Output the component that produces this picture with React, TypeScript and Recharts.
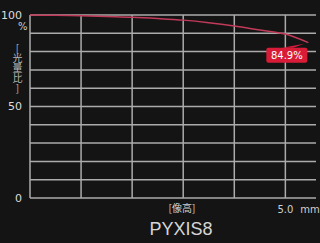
import React from 'react';
import { LineChart, Line, XAxis, YAxis, ReferenceLine } from 'recharts';

// image height (mm) vs relative illumination (%)
const imageHeight = [0, 0.5, 1, 1.5, 2, 2.5, 3, 3.5, 4, 4.5, 5, 5.45];
const illumination = [100, 99.8, 99.6, 99.2, 98.8, 98.1, 97.2, 95.8, 94, 91.8, 89.6, 84.9];

const gridY = [0, 10, 20, 30, 40, 50, 60, 70, 80, 90, 100];
const gridX = [0, 1, 2, 3, 4, 5];
const yTicks = [0, 50, 100];
const xTicks = [5];
const xTickLabels = ['5.0'];

const xUnit = 'mm';
const xTitle = '[像高]';
const yTitle = '[光量比]';
const yUnit = '%';
const lensName = 'PYXIS8';

const data = imageHeight.map((x, i) => ({ x, v: illumination[i] }));

const GRID = '#ababab';
const LINE = '#c23a5a';
const FONT = '"DejaVu Sans", sans-serif';

const EndLabel = (props: any) => {
  const { x, y, index, value } = props;
  if (index !== data.length - 1) return null;
  const bx = x - 42;
  const by = y + 5;
  return (
    <g>
      <path d={`M${x - 26},${by} L${x - 15},${by} L${x - 4},${y + 1} Z`} fill="#d81c38" />
      <rect x={bx} y={by} width={41} height={15} rx={2} fill="#d81c38" />
      <text x={bx + 20.5} y={by + 11} textAnchor="middle" fill="#fff" fontSize={10} fontFamily={FONT}>
        {value}%
      </text>
    </g>
  );
};

const XTick = (props: any) => {
  const { x, y, index } = props;
  return (
    <g>
      <text x={x} y={y + 7} textAnchor="middle" fill="#cfcfcf" fontSize={10} fontFamily={FONT}>
        {xTickLabels[index]}
      </text>
      <text x={x + 15} y={y + 7} textAnchor="start" fill="#cfcfcf" fontSize={10} fontFamily={FONT}>
        {xUnit}
      </text>
    </g>
  );
};

export default function App() {
  return (
    <div
      style={{
        position: 'fixed',
        left: 0,
        top: 0,
        width: 320,
        height: 243,
        background: '#141414',
        overflow: 'hidden',
      }}
    >
      <LineChart width={320} height={243} data={data} margin={{ top: 15, right: 4, bottom: 0, left: 0 }}>
        <XAxis
          dataKey="x"
          type="number"
          domain={[0, 5.6]}
          ticks={xTicks}
          tick={<XTick />}
          axisLine={false}
          tickLine={false}
          height={45}
        />
        <YAxis
          type="number"
          domain={[0, 100]}
          ticks={yTicks}
          width={30}
          axisLine={false}
          tickLine={false}
          tickMargin={2}
          tick={{ fill: '#dcdcdc', fontSize: 11, fontFamily: FONT }}
        />
        {gridY.map((g) => (
          <ReferenceLine key={'h' + g} y={g} stroke={GRID} strokeWidth={1.5} ifOverflow="extendDomain" />
        ))}
        {gridX.map((g) => (
          <ReferenceLine key={'v' + g} x={g} stroke={GRID} strokeWidth={1.5} />
        ))}
        <Line
          type="monotone"
          dataKey="v"
          stroke={LINE}
          strokeWidth={1.5}
          dot={false}
          isAnimationActive={false}
          label={<EndLabel />}
        />
      </LineChart>
      <div style={{ position: 'absolute', left: 18, top: 21, color: '#cfcfcf', fontSize: 10, fontFamily: FONT }}>
        {yUnit}
      </div>
      <div
        style={{
          position: 'absolute',
          left: 11,
          top: 43,
          color: '#b8b8b8',
          fontSize: 10,
          lineHeight: '12px',
          writingMode: 'vertical-rl',
          textOrientation: 'upright',
          fontFamily: '"Noto Sans CJK JP", sans-serif',
        }}
      >
        {yTitle}
      </div>
      <div
        style={{
          position: 'absolute',
          left: 142,
          width: 80,
          top: 200,
          textAlign: 'center',
          color: '#cfcfcf',
          fontSize: 10,
          fontFamily: '"Noto Sans CJK JP", sans-serif',
        }}
      >
        {xTitle}
      </div>
      <div
        style={{
          position: 'absolute',
          left: 131,
          width: 100,
          top: 219,
          textAlign: 'center',
          color: '#d6d6d6',
          fontSize: 18,
          fontFamily: '"Liberation Sans", sans-serif',
        }}
      >
        {lensName}
      </div>
    </div>
  );
}
